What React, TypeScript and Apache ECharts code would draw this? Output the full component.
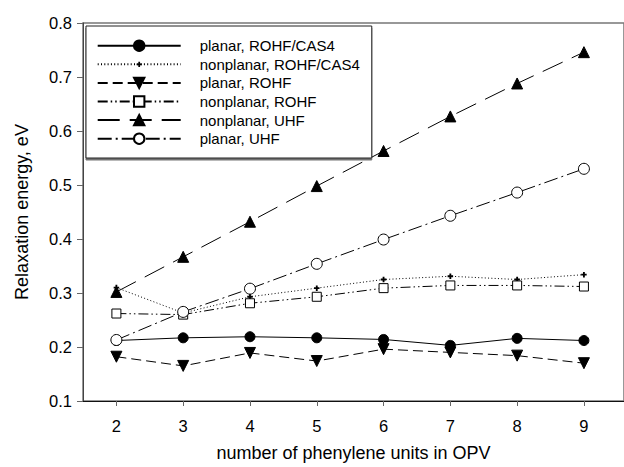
import React, { useEffect, useRef } from "react";
import * as echarts from "echarts";

const units = [2, 3, 4, 5, 6, 7, 8, 9];
const planarRohfCas4 = [0.212, 0.217, 0.219, 0.217, 0.214, 0.203, 0.216, 0.212];
const nonplanarRohfCas4 = [0.31, 0.263, 0.293, 0.309, 0.325, 0.331, 0.325, 0.334];
const planarRohf = [0.182, 0.165, 0.189, 0.174, 0.196, 0.19, 0.184, 0.17];
const nonplanarRohf = [0.262, 0.26, 0.281, 0.293, 0.309, 0.314, 0.314, 0.312];
const nonplanarUhf = [0.302, 0.367, 0.432, 0.498, 0.563, 0.627, 0.688, 0.746];
const planarUhf = [0.213, 0.265, 0.308, 0.354, 0.399, 0.443, 0.486, 0.53];
const seriesNames = [
  "planar, ROHF/CAS4",
  "nonplanar, ROHF/CAS4",
  "planar, ROHF",
  "nonplanar, ROHF",
  "nonplanar, UHF",
  "planar, UHF",
];
const xTicks = [2, 3, 4, 5, 6, 7, 8, 9];

const FONT = "'Liberation Sans', Arial, Helvetica, sans-serif";
// small plus centred in a larger (invisible) 12x12 box so the legend copy stays small
const PLUS = "path://M0,0M12,12M5,3H7V5H9V7H7V9H5V7H3V5H5Z";

function pairs(vals: number[]) {
  return units.map((u, i) => [u, vals[i]]);
}

export default function App() {
  const ref = useRef<HTMLDivElement>(null);
  useEffect(() => {
    if (!ref.current) return;
    const chart = echarts.init(ref.current, undefined, { renderer: "svg" });
    const mk = (
      name: string,
      vals: number[],
      symbol: string,
      size: number,
      dash: any,
      fill: string,
      rotate = 0,
      bw = 1
    ) => ({
      name,
      type: "line",
      data: pairs(vals),
      symbol,
      symbolSize: size,
      symbolRotate: rotate,
      showAllSymbol: true,
      lineStyle: { color: "#000", width: 1, type: dash },
      itemStyle: { color: fill, borderColor: "#000", borderWidth: bw, opacity: 1 },
      emphasis: { disabled: true },
      z: 3,
    });
    chart.setOption({
      animation: false,
      backgroundColor: "#fff",
      textStyle: { fontFamily: FONT },
      grid: {
        left: 83,
        top: 23,
        bottom: 64,
        width: 551,
        show: true,
        borderColor: "#777",
        borderWidth: 1.5,
        backgroundColor: "transparent",
      },
      legend: {
        orient: "vertical",
        left: 86,
        top: 26,
        padding: [11.7, 12, 11.3, 10.7],
        itemWidth: 83,
        itemHeight: 13,
        itemGap: 2.6,
        backgroundColor: "#fff",
        borderColor: "#222",
        borderWidth: 1,
        shadowColor: "rgba(0,0,0,0.55)",
        shadowOffsetX: 0,
        shadowOffsetY: 2,
        shadowBlur: 0,
        selectedMode: false,
        textStyle: {
          fontFamily: FONT,
          fontSize: 15,
          color: "#000",
          lineHeight: 16,
          padding: [0, 0, 0, 14],
        },
        data: seriesNames,
      },
      xAxis: {
        type: "value",
        min: 1.5,
        max: 9.6,
        name: "number of phenylene units in OPV",
        nameLocation: "middle",
        nameGap: 43,
        nameTextStyle: { fontFamily: FONT, fontSize: 18, color: "#000" },
        axisLine: { show: true, lineStyle: { color: "#111", width: 1 } },
        axisTick: {
          show: true,
          inside: false,
          length: 5,
          customValues: xTicks,
          lineStyle: { color: "#666" },
        },
        axisLabel: {
          customValues: xTicks,
          margin: 16,
          fontFamily: FONT,
          fontSize: 16.5,
          color: "#000",
        },
        splitLine: { show: false },
      },
      yAxis: {
        type: "value",
        min: 0.1,
        max: 0.8,
        interval: 0.1,
        name: "Relaxation energy, eV",
        nameLocation: "middle",
        nameGap: 52,
        nameTextStyle: { fontFamily: FONT, fontSize: 18, color: "#000" },
        axisLine: { show: true, lineStyle: { color: "#444", width: 1 } },
        axisTick: { show: true, inside: false, length: 6, lineStyle: { color: "#666" } },
        axisLabel: {
          margin: 11,
          fontFamily: FONT,
          fontSize: 16.5,
          color: "#000",
          formatter: (v: number) => v.toFixed(1),
        },
        splitLine: { show: false },
      },
      series: [
        mk(seriesNames[0], planarRohfCas4, "circle", 10, "solid", "#000"),
        mk(seriesNames[1], nonplanarRohfCas4, PLUS, 11, [1, 2.3], "#000", 0, 0),
        mk(seriesNames[2], planarRohf, "triangle", 11, [10, 5], "#000", 180),
        mk(seriesNames[3], nonplanarRohf, "rect", 9, [10, 3, 1.5, 3, 1.5, 3], "#fff"),
        mk(seriesNames[4], nonplanarUhf, "triangle", 11, [22, 10], "#000"),
        mk(seriesNames[5], planarUhf, "circle", 11, [14, 4, 2, 4], "#fff"),
      ],
    });
    return () => chart.dispose();
  }, []);
  return (
    <div
      ref={ref}
      style={{ position: "absolute", left: 0, top: 0, width: 624, height: 467 }}
    />
  );
}
